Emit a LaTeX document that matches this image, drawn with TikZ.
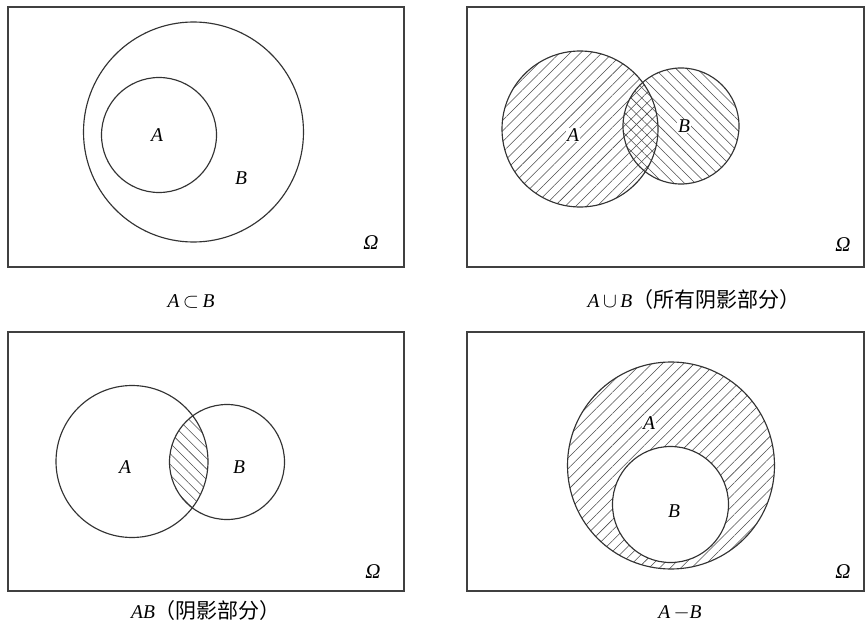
\documentclass[tikz,border=0pt]{standalone}
\usepackage{amsmath}
\usepackage{amssymb}
\usepackage{fontspec}
\setmainfont{Liberation Serif}
\newfontfamily\cjk{Noto Sans CJK SC}
\usepackage{tikz}
\usetikzlibrary{patterns.meta}
\begin{document}
\begin{tikzpicture}[x=1pt,y=-1pt,
  setline/.style={line width=1.15pt,draw=black!80},
  boxline/.style={line width=1.25pt,draw=black!75},
  hatchup/.style={pattern={Lines[angle=45,distance=7.5pt,line width=0.55pt]},pattern color=black!70},
  hatchdown/.style={pattern={Lines[angle=-45,distance=7.5pt,line width=0.55pt]},pattern color=black!70},
  omega/.style={font=\fontsize{21}{24}\selectfont\itshape},
  every node/.style={font=\fontsize{19.5}{22}\selectfont\itshape}]
\useasboundingbox (0,0) rectangle (867,623);
\draw[boxline] (8,7) rectangle (404,267);
\draw[setline] (193.5,132) circle[radius=110];
\draw[setline] (159,135) circle[radius=57.5];
\node (lA1) at (157,135) {A};
\node (lB1) at (241,178) {B};
\node[omega] (om1) at (371,243) {Ω};
\node[anchor=base] (cap1) at (191,307) {A$\,\subset\,$B};
\fill[hatchup] (580,129) circle[radius=78];
\fill[hatchdown] (681,126) circle[radius=58];
\draw[boxline] (467,7) rectangle (864,267);
\draw[setline] (580,129) circle[radius=78];
\draw[setline] (681,126) circle[radius=58];
\node[fill=white,inner sep=1pt] (lA2) at (573,135) {A};
\node[fill=white,inner sep=1pt] (lB2) at (684,126) {B};
\node[omega] (om2) at (843,245) {Ω};
\node[anchor=base] (cap2) at (694,307) {A$\,\cup\,$B{\cjk\upshape\fontsize{21}{23}\selectfont （所有阴影部分）}};
\begin{scope}
\clip (132,461.5) circle[radius=76];
\fill[hatchdown] (227,462) circle[radius=57.5];
\end{scope}
\draw[boxline] (8,332) rectangle (404,591);
\draw[setline] (132,461.5) circle[radius=76];
\draw[setline] (227,462) circle[radius=57.5];
\node (lA3) at (125,467) {A};
\node (lB3) at (239,467) {B};
\node[omega] (om3) at (373,572) {Ω};
\node[anchor=base] (cap3) at (206,618) {AB{\cjk\upshape\fontsize{21}{23}\selectfont （阴影部分）}};
\fill[hatchup] (671,465.5) circle[radius=103.5];
\fill[white] (670.5,504.5) circle[radius=58];
\draw[boxline] (467,332) rectangle (864,591);
\draw[setline] (671,465.5) circle[radius=103.5];
\draw[setline] (670.5,504.5) circle[radius=58];
\node[fill=white,inner sep=1pt] (lA4) at (649,423) {A};
\node (lB4) at (674,511) {B};
\node[omega] (om4) at (843,572) {Ω};
\node[anchor=base] (cap4) at (680,618) {A\,$-$B};
\end{tikzpicture}
\end{document}
